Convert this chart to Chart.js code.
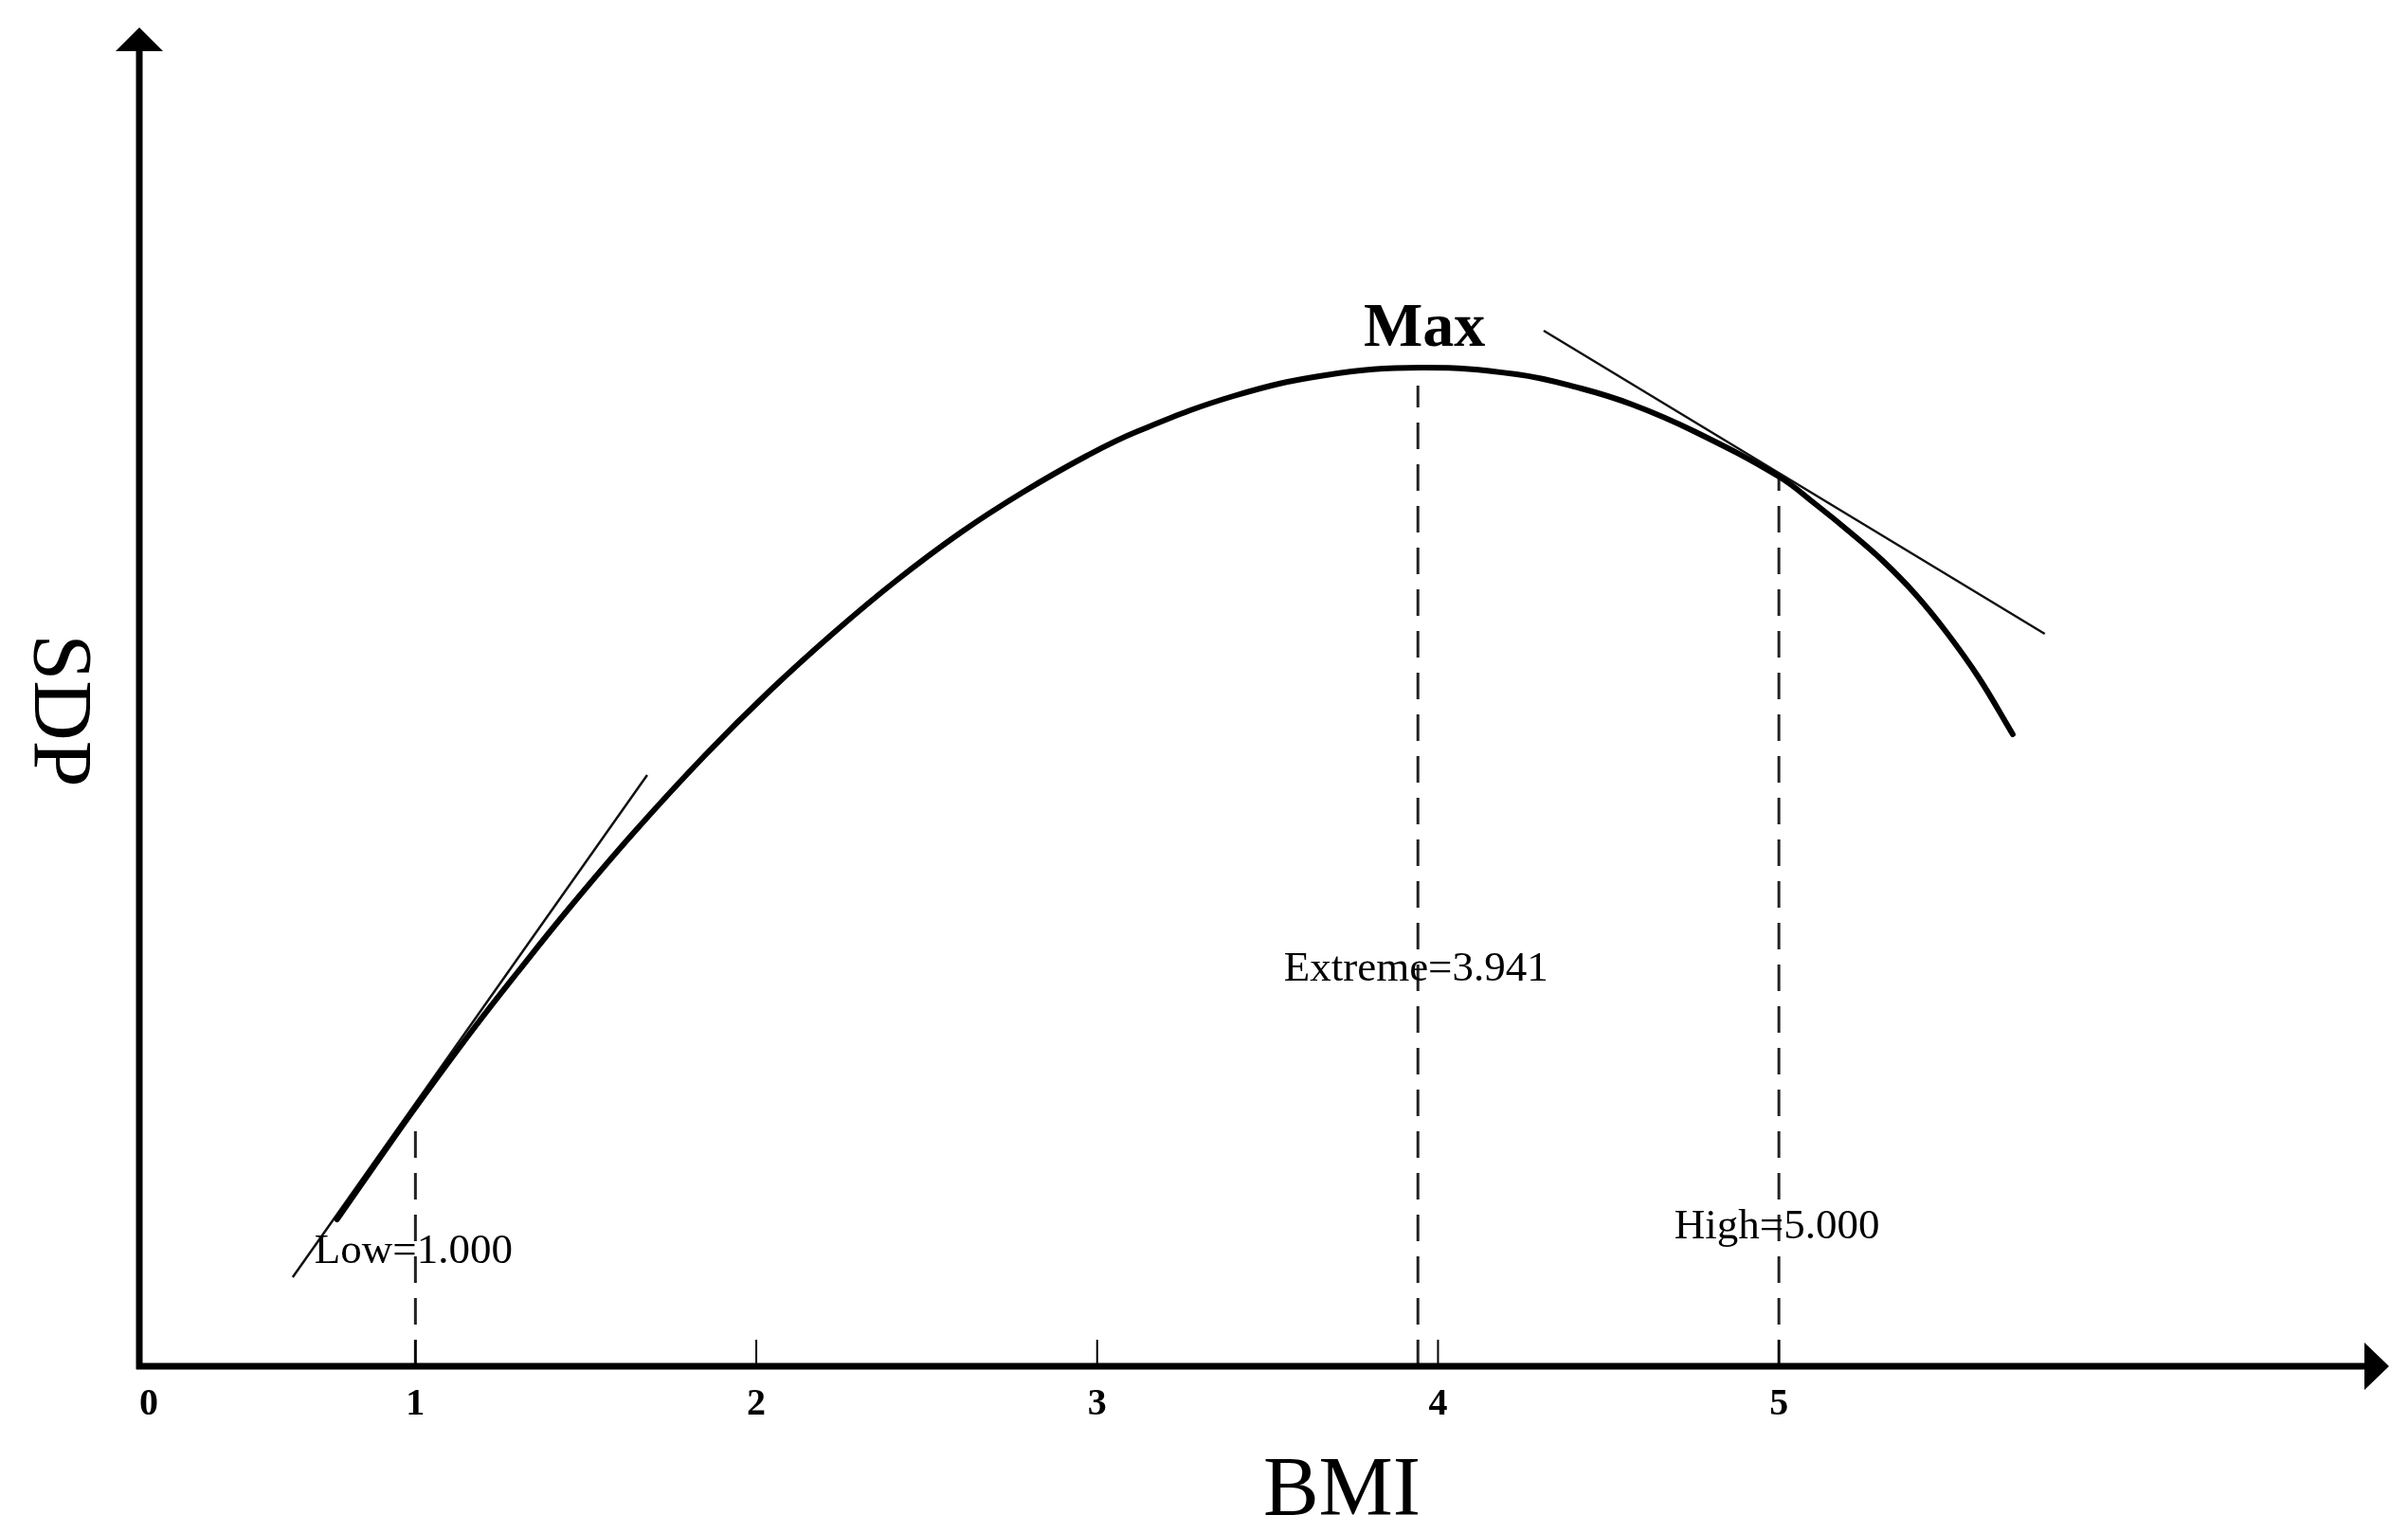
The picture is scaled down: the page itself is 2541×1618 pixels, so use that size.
<!DOCTYPE html>
<html>
<head>
<meta charset="utf-8">
<script src="https://cdn.jsdelivr.net/npm/chart.js@4.4.0/dist/chart.umd.min.js"></script>
<style>
  html, body { margin: 0; padding: 0; background: #fff; }
  #wrap { width: 2541px; height: 1618px; }
</style>
</head>
<body>
<div id="wrap"><canvas id="grafico" width="2541" height="1618"></canvas></div>
<script>
// curva SDP em funcao do BMI
const bmi = [0.77, 0.89, 1.00, 1.17, 1.30, 1.45, 1.64, 1.85, 2.04, 2.23, 2.41, 2.60, 2.78, 2.97,
             3.12, 3.40, 3.67, 3.95, 4.23, 4.42, 4.57, 4.75, 5.00, 5.107, 5.213, 5.308, 5.400,
             5.491, 5.586, 5.686];
const sdp = [1.55, 2.17, 2.73, 3.56, 4.16, 4.83, 5.63, 6.45, 7.13, 7.75, 8.29, 8.80, 9.22, 9.61,
             9.87, 10.24, 10.46, 10.54, 10.47, 10.32, 10.15, 9.87, 9.39, 9.10, 8.79, 8.49, 8.15,
             7.75, 7.27, 6.67];

// retas tangentes
const tangenteLowX = [0.64, 1.68];
const tangenteLowY = [0.94, 6.24];
const tangenteHighX = [4.31, 5.78];
const tangenteHighY = [10.93, 7.73];

// linhas tracejadas e seus rotulos
const marcadores = ['Low=1.000', 'Extreme=3.941', 'High=5.000'];
const marcadoresX = [1.000, 3.941, 5.000];
const marcadoresTopo = [2.59, 10.35, 9.39];
const marcadoresTextoY = [1.09, 4.07, 1.35];

const maxTexto = 'Max';
const maxX = 3.96;
const maxY = 10.77;

const ticksX = [1, 2, 3, 4, 5];
const ticksLabels = ['1', '2', '3', '4', '5'];
const origemLabel = '0';

const tituloX = 'BMI';
const tituloY = 'SDP';

function pontos(xs, ys) {
    return xs.map((v, i) => ({ x: v, y: ys[i] }));
}

const datasets = [
    {
        data: pontos(bmi, sdp),
        borderColor: '#000',
        borderWidth: 6,
        tension: 0.4,
        borderCapStyle: 'round',
        pointRadius: 0
    },
    {
        data: pontos(tangenteLowX, tangenteLowY),
        borderColor: '#111',
        borderWidth: 2.5,
        pointRadius: 0
    },
    {
        data: pontos(tangenteHighX, tangenteHighY),
        borderColor: '#111',
        borderWidth: 2.5,
        pointRadius: 0
    }
];

marcadoresX.forEach((v, i) => {
    datasets.push({
        data: [{ x: v, y: 0 }, { x: v, y: marcadoresTopo[i] }],
        borderColor: '#222',
        borderWidth: 3,
        borderDash: [28, 16],
        pointRadius: 0
    });
});

const eixos = {
    id: 'eixos',
    afterDraw(chart) {
        const { ctx, chartArea, scales } = chart;
        const x = scales.x, y = scales.y;
        const x0 = chartArea.left, y0 = chartArea.bottom;
        ctx.save();
        ctx.fillStyle = '#000';
        ctx.strokeStyle = '#000';

        // eixo y com seta
        ctx.lineWidth = 7;
        ctx.beginPath();
        ctx.moveTo(x0, y0 + 3);
        ctx.lineTo(x0, chartArea.top + 20);
        ctx.stroke();
        ctx.beginPath();
        ctx.moveTo(x0, chartArea.top);
        ctx.lineTo(x0 - 25, chartArea.top + 25);
        ctx.lineTo(x0 + 25, chartArea.top + 25);
        ctx.closePath();
        ctx.fill();

        // eixo x com seta
        ctx.beginPath();
        ctx.moveTo(x0 - 3, y0);
        ctx.lineTo(chartArea.right - 22, y0);
        ctx.stroke();
        ctx.beginPath();
        ctx.moveTo(chartArea.right, y0);
        ctx.lineTo(chartArea.right - 26, y0 - 25);
        ctx.lineTo(chartArea.right - 26, y0 + 25);
        ctx.closePath();
        ctx.fill();

        // marcas dos ticks
        ctx.lineWidth = 2;
        ticksX.forEach(v => {
            const px = x.getPixelForValue(v);
            ctx.beginPath();
            ctx.moveTo(px, y0);
            ctx.lineTo(px, y0 - 28);
            ctx.stroke();
        });

        // rotulos dos ticks
        ctx.font = 'bold 40px "Liberation Serif"';
        ctx.textAlign = 'center';
        ctx.textBaseline = 'alphabetic';
        ticksX.forEach((v, i) => {
            ctx.fillText(ticksLabels[i], x.getPixelForValue(v), y0 + 51);
        });
        ctx.fillText(origemLabel, x0 + 10, y0 + 51);

        // titulos
        ctx.font = '88px "Liberation Serif"';
        ctx.fillText(tituloX, 1416, 1598);
        ctx.save();
        ctx.translate(37, 750);
        ctx.rotate(Math.PI / 2);
        ctx.fillText(tituloY, 0, 0);
        ctx.restore();

        // rotulos das linhas tracejadas
        ctx.font = '45px "Liberation Serif"';
        marcadores.forEach((t, i) => {
            ctx.fillText(t, x.getPixelForValue(marcadoresX[i]) - 2, y.getPixelForValue(marcadoresTextoY[i]));
        });

        ctx.font = 'bold 66px "Liberation Serif"';
        ctx.fillText(maxTexto, x.getPixelForValue(maxX), y.getPixelForValue(maxY));
        ctx.restore();
    }
};

new Chart(document.getElementById('grafico'), {
    type: 'line',
    data: { datasets: datasets },
    options: {
        responsive: false,
        animation: false,
        layout: { padding: { left: 147, top: 29, right: 20, bottom: 176 } },
        plugins: { legend: { display: false }, tooltip: { enabled: false } },
        scales: {
            x: { type: 'linear', min: 0.19, max: 6.79, display: false },
            y: { type: 'linear', min: 0, max: 14.13, display: false }
        }
    },
    plugins: [eixos]
});
</script>
</body>
</html>
